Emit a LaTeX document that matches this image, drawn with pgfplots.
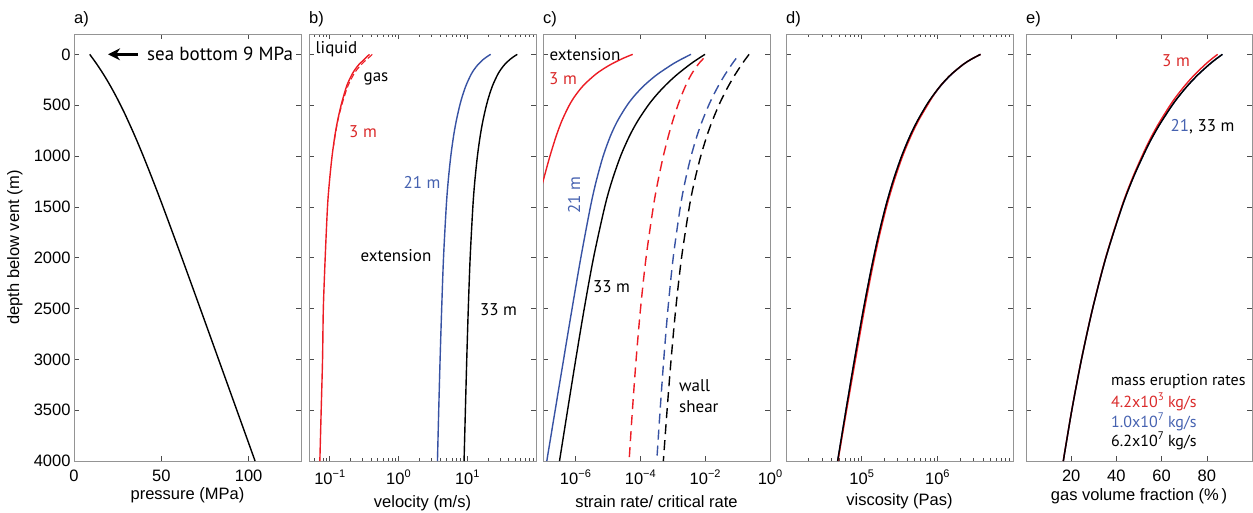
\documentclass[border=0pt]{standalone}
\usepackage{fontspec}
\setmainfont{Liberation Sans}
\newfontfamily\annot{PT Sans}
\usepackage{pgfplots}
\pgfplotsset{compat=1.18}
\usetikzlibrary{arrows.meta}
\definecolor{cred}{RGB}{236,28,36}
\definecolor{cblue}{RGB}{55,82,163}
\definecolor{tred}{RGB}{218,42,42}
\definecolor{tblue}{RGB}{70,98,176}
\newcommand{\tp}[1]{\raisebox{0.42em}{\fontsize{11}{11}\selectfont #1}}
\newcommand{\af}{\annot\fontsize{17}{20}\selectfont}
\newcommand{\lf}{\annot\fontsize{16}{19}\selectfont}
\pgfplotsset{
  panel/.style={
    scale only axis, width=227pt, height=427pt, anchor=north west,
    ymin=-200, ymax=4000, y dir=reverse,
    ytick={0,500,...,4000},
    axis line style={draw=black!42, line width=0.9pt},
    every tick/.style={draw=black!70, line width=0.6pt},
    major tick length=5pt, minor tick length=3pt,
    tick align=inside,
    tick label style={font=\fontsize{16.5}{18}\selectfont},
    label style={font=\fontsize{16.5}{18}\selectfont},
    xticklabel style={inner sep=0pt, yshift=-9pt},
    xlabel style={at={(axis description cs:0.5,0)}, anchor=north, inner sep=0pt, yshift=-26pt},
    title style={at={(axis description cs:0,1)}, anchor=base west, inner sep=0pt, yshift=5pt, font=\fontsize{16.5}{18}\selectfont},
    /pgf/number format/assume math mode=true,
    /pgf/number format/1000 sep={},
    every axis plot/.append style={line width=1.4pt, mark=none},
  },
}
\begin{document}
\begin{tikzpicture}
\useasboundingbox (0pt,0pt) rectangle (1253pt,-512pt);
% ---------------- a) pressure
\begin{axis}[panel, at={(74pt,-34pt)}, xmin=0, xmax=130, xtick={0,50,100},
  xlabel={pressure (MPa)}, ylabel={depth below vent (m)},
  ylabel style={at={(axis description cs:-0.26,0.5)}, anchor=center},
  title={a)}]
\addplot[black, smooth] coordinates {(9.0,0) (13.21,100) (17.01,200) (20.49,300) (23.70,400) (26.70,500) (29.53,600) (34.78,800) (39.67,1000) (45.44,1250) (50.99,1500) (61.74,2000) (72.30,2500) (82.78,3000) (93.25,3500) (103.7,4000)};
\draw[line width=3pt, -{Stealth[length=12pt,width=12pt]}] (axis cs:36.7,0) -- (axis cs:19.5,0);
\end{axis}
% ---------------- b) velocity
\begin{axis}[panel, at={(309pt,-34pt)}, yticklabels={}, xmode=log, xmin=0.05, xmax=100,
  xtick={0.1,1,10}, xticklabels={10\tp{−1},10\tp{0},10\tp{1}},
  minor xtick={0.06,0.07,0.08,0.09,0.2,0.3,0.4,0.5,0.6,0.7,0.8,0.9,2,3,4,5,6,7,8,9,20,30,40,50,60,70,80,90},
  xlabel={velocity (m/s)}, xlabel style={yshift=-8pt}, title={b)}]
\addplot[cred, smooth] coordinates {(0.379,0) (0.346,25) (0.318,50) (0.266,100) (0.233,150) (0.210,200) (0.179,300) (0.161,400) (0.1465,500) (0.1304,650) (0.119,800) (0.1083,1000) (0.0992,1250) (0.0929,1500) (0.0860,2000) (0.0808,2500) (0.0787,3000) (0.0752,3500) (0.0719,4000)};
\addplot[cred, smooth, line width=1.1pt, dash pattern=on 6pt off 3pt] coordinates {(0.415,0) (0.381,25) (0.345,50) (0.288,100) (0.249,150) (0.222,200) (0.187,300) (0.166,400) (0.1495,500) (0.1315,650) (0.1198,800) (0.114,900)};
\addplot[cblue, smooth] coordinates {(21.91,0) (19.19,25) (17.14,50) (14.36,100) (12.58,150) (11.33,200) (9.68,300) (8.59,400) (7.80,500) (6.95,650) (6.34,800) (5.77,1000) (5.28,1250) (4.95,1500) (4.52,2000) (4.25,2500) (4.03,3000) (3.85,3500) (3.69,4000)};
\addplot[black, smooth] coordinates {(53.44,0) (46.80,25) (41.81,50) (35.03,100) (30.68,150) (27.64,200) (23.60,300) (20.95,400) (19.03,500) (16.94,650) (15.46,800) (14.07,1000) (12.88,1250) (12.07,1500) (11.03,2000) (10.36,2500) (9.84,3000) (9.40,3500) (8.99,4000)};
\end{axis}
% ---------------- c) strain rate
\begin{axis}[panel, at={(543pt,-34pt)}, yticklabels={}, xmode=log, xmin=1e-7, xmax=1,
  xtick={1e-6,1e-4,1e-2,1}, xticklabels={10\tp{−6},10\tp{−4},10\tp{−2},10\tp{0}},
  xlabel={strain rate/ critical rate}, xlabel style={yshift=-8pt}, title={c)}]
\addplot[cred, smooth] coordinates {(5.83e-5,0) (3.737e-5,25) (2.489e-5,50) (1.222e-5,100) (6.72e-6,150) (4.06e-6,200) (1.835e-6,300) (1.019e-6,400) (6.48e-7,500) (3.862e-7,650) (2.574e-7,800) (1.641e-7,1000) (9.99e-8,1250) (6.87e-8,1450)};
\addplot[cblue, smooth] coordinates {(3.662e-3,0) (1.795e-3,50) (9.51e-4,100) (3.258e-4,200) (1.381e-4,300) (6.91e-5,400) (3.93e-5,500) (2.022e-5,650) (1.212e-5,800) (7.18e-6,1000) (4.355e-6,1250) (2.902e-6,1500) (1.468e-6,2000) (7.89e-7,2500) (4.32e-7,3000) (2.376e-7,3500) (1.309e-7,4000)};
\addplot[black, smooth] coordinates {(9.89e-3,0) (5.655e-3,50) (3.37e-3,100) (1.348e-3,200) (6.16e-4,300) (3.146e-4,400) (1.764e-4,500) (8.52e-5,650) (4.696e-5,800) (2.477e-5,1000) (1.322e-5,1250) (8.01e-6,1500) (3.62e-6,2000) (1.872e-6,2500) (1.024e-6,3000) (5.73e-7,3500) (3.23e-7,4000)};
\addplot[cred, smooth, dash pattern=on 10pt off 6pt] coordinates {(8.93e-3,40) (6.04e-3,100) (3.72e-3,200) (2.573e-3,300) (1.893e-3,400) (1.447e-3,500) (1.012e-3,650) (7.40e-4,800) (5.145e-4,1000) (3.494e-4,1250) (2.522e-4,1500) (1.506e-4,2000) (1.019e-4,2500) (7.45e-5,3000) (5.72e-5,3500) (4.52e-5,4000)};
\addplot[cblue, smooth, dash pattern=on 10pt off 6pt] coordinates {(9.04e-2,40) (6.59e-2,100) (4.08e-2,200) (2.66e-2,300) (1.816e-2,400) (1.29e-2,500) (8.26e-3,650) (5.64e-3,800) (3.693e-3,1000) (2.412e-3,1250) (1.719e-3,1500) (1.035e-3,2000) (7.15e-4,2500) (5.30e-4,3000) (4.09e-4,3500) (3.22e-4,4000)};
\addplot[black, smooth, dash pattern=on 10pt off 6pt] coordinates {(0.2265,0) (0.173,50) (0.1339,100) (8.36e-2,200) (5.47e-2,300) (3.738e-2,400) (2.651e-2,500) (1.683e-2,650) (1.139e-2,800) (7.33e-3,1000) (4.674e-3,1250) (3.253e-3,1500) (1.874e-3,2000) (1.243e-3,2500) (8.93e-4,3000) (6.70e-4,3500) (5.145e-4,4000)};
\end{axis}
% ---------------- d) viscosity
\begin{axis}[panel, at={(786pt,-34pt)}, yticklabels={}, xmode=log, xmin=1e4, xmax=1e7,
  xtick={1e5,1e6}, xticklabels={10\tp{5},10\tp{6}},
  minor xtick={2e4,3e4,4e4,5e4,6e4,7e4,8e4,9e4,2e5,3e5,4e5,5e5,6e5,7e5,8e5,9e5,2e6,3e6,4e6,5e6,6e6,7e6,8e6,9e6},
  xlabel={viscosity (Pas)}, xlabel style={yshift=-6pt}, title={d)}]
\addplot[cblue, smooth] coordinates {(3.72e6,0) (2.78e6,50) (2.19e6,100) (1.52e6,200) (1.14e6,300) (8.95e5,400) (7.25e5,500) (5.52e5,650) (4.37e5,800) (3.38e5,1000) (2.59e5,1250) (2.07e5,1500) (1.647e5,1800) (1.348e5,2100) (1.06e5,2500) (8.05e4,3000) (6.20e4,3500) (4.81e4,4000)};
\addplot[cred, smooth] coordinates {(3.72e6,0) (2.78e6,50) (2.19e6,100) (1.508e6,200) (1.126e6,300) (8.94e5,400) (7.40e5,500) (5.65e5,650) (4.50e5,800) (3.48e5,1000) (2.67e5,1250) (2.13e5,1500) (1.696e5,1800) (1.388e5,2100) (1.092e5,2500) (8.29e4,3000) (6.32e4,3500) (4.86e4,4000)};
\addplot[black, smooth] coordinates {(3.72e6,0) (2.78e6,50) (2.19e6,100) (1.508e6,200) (1.126e6,300) (8.85e5,400) (7.18e5,500) (5.49e5,650) (4.37e5,800) (3.38e5,1000) (2.59e5,1250) (2.07e5,1500) (1.647e5,1800) (1.348e5,2100) (1.06e5,2500) (8.05e4,3000) (6.20e4,3500) (4.81e4,4000)};
\end{axis}
% ---------------- e) gas volume fraction
\begin{axis}[panel, at={(1026pt,-34pt)}, width=226pt, yticklabels={}, xmin=0, xmax=100,
  xtick={20,40,60,80}, xlabel={gas volume fraction (\%\,)}, xlabel style={yshift=-1pt}, title={e)}]
\addplot[cblue, smooth] coordinates {(86.9,0) (83.85,50) (81.06,100) (76.12,200) (71.84,300) (68.07,400) (64.69,500) (58.85,700) (53.91,900) (47.69,1200) (42.48,1500) (35.33,2000) (29.49,2500) (24.55,3000) (20.27,3500) (16.50,4000)};
\addplot[cred, smooth] coordinates {(84.8,0) (81.9,50) (79.28,100) (74.62,200) (70.57,300) (66.99,400) (63.78,500) (58.20,700) (53.44,900) (47.41,1200) (42.31,1500) (35.26,2000) (29.47,2500) (24.53,3000) (20.25,3500) (16.48,4000)};
\addplot[black, smooth] coordinates {(86.9,0) (83.85,50) (81.06,100) (76.12,200) (71.84,300) (68.07,400) (64.69,500) (58.85,700) (53.91,900) (47.69,1200) (42.48,1500) (35.33,2000) (29.49,2500) (24.55,3000) (20.27,3500) (16.50,4000)};
\end{axis}
% ---------------- annotations
\node[font=\annot\fontsize{19}{22}\selectfont, anchor=west, inner sep=0pt] at (147pt,-54pt) {sea bottom 9 MPa};
\node[font=\af] at (336.5pt,-49pt) {liquid};
\node[font=\af] at (376pt,-79pt) {gas};
\node[font=\af, text=tred] at (363pt,-132pt) {3 m};
\node[font=\af, text=tblue] at (422pt,-182pt) {21 m};
\node[font=\af] at (396pt,-256pt) {extension};
\node[font=\af] at (498.5pt,-310pt) {33 m};
\node[font=\af] at (585pt,-55pt) {extension};
\node[font=\af, text=tred] at (563pt,-79pt) {3 m};
\node[font=\af, text=tblue, rotate=90] at (574pt,-195pt) {21 m};
\node[font=\af] at (611.5pt,-287pt) {33 m};
\node[font=\af, anchor=west, inner sep=0pt] at (679pt,-386pt) {wall};
\node[font=\af, anchor=west, inner sep=0pt] at (679pt,-407pt) {shear};
\node[font=\af, text=tred] at (1176pt,-61pt) {3 m};
\node[font=\af] at (1202.5pt,-127pt) {{\color{tblue}21}, 33 m};
\node[font=\lf, anchor=west, inner sep=0pt] at (1111pt,-381.7pt) {mass eruption rates};
\node[font=\lf, anchor=west, inner sep=0pt, text=tred] at (1111pt,-402pt) {4.2x10\tp{3} kg/s};
\node[font=\lf, anchor=west, inner sep=0pt, text=tblue] at (1111pt,-422pt) {1.0x10\tp{7} kg/s};
\node[font=\lf, anchor=west, inner sep=0pt] at (1111pt,-441pt) {6.2x10\tp{7} kg/s};
\end{tikzpicture}
\end{document}
